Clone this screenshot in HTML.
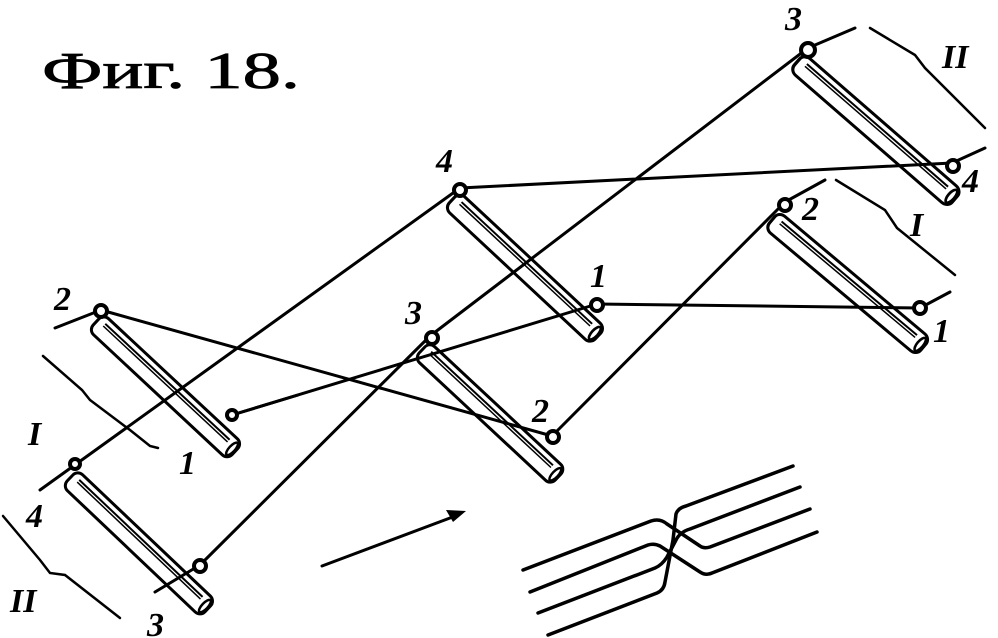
<!DOCTYPE html>
<html><head><meta charset="utf-8"><style>
html,body{margin:0;padding:0;background:#fff;}
svg{display:block}
.n{font-family:"Liberation Serif",serif;font-style:italic;font-weight:bold;font-size:34px;fill:#000}
</style></head><body>
<svg width="998" height="638" viewBox="0 0 998 638" xmlns="http://www.w3.org/2000/svg">
<defs>
<g id="bar">
  <rect x="0" y="-11" width="190" height="22" rx="7" fill="#fff" stroke="#000" stroke-width="3"/>
  <line x1="8" y1="-5" x2="178" y2="-5" stroke="#000" stroke-width="2"/>
  <line x1="8" y1="-2" x2="178" y2="-2" stroke="#000" stroke-width="1.5"/>
  <ellipse cx="186" cy="0" rx="3" ry="8" fill="#fff" stroke="#000" stroke-width="2.5"/>
</g>
</defs>
<text x="42" y="88" font-family="Liberation Serif, 'DejaVu Serif', serif" font-size="52" stroke="#000" stroke-width="0.8" textLength="258" lengthAdjust="spacingAndGlyphs">Фиг. 18.</text>

<g stroke="#000" stroke-width="2.5" fill="none" stroke-linecap="round">
  <polyline points="870,28 915,55 925,68 985,128"/>
  <polyline points="836,180 885,210 897,228 955,275"/>
  <polyline points="43,356 82,390 90,400 130,430 150,446 158,448"/>
  <polyline points="3,516 40,560 50,573 65,575 120,618"/>
</g>

<use href="#bar" transform="translate(96,322) rotate(43)"/>
<use href="#bar" transform="translate(70,478) rotate(43.5)"/>
<use href="#bar" transform="translate(422,350) rotate(43) scale(0.98,1)"/>
<use href="#bar" transform="translate(452,200) rotate(43) scale(1.05,1)"/>
<use href="#bar" transform="translate(772,220) rotate(40) scale(1.04,1)"/>
<use href="#bar" transform="translate(797,62) rotate(41) scale(1.1,1)"/>

<g stroke="#000" stroke-width="3" fill="none" stroke-linecap="round">
  <line x1="40" y1="490" x2="460" y2="188"/>
  <line x1="460" y1="188" x2="952" y2="163"/>
  <line x1="808" y1="48" x2="430" y2="336"/>
  <line x1="430" y1="336" x2="200" y2="565"/>
  <line x1="155" y1="592" x2="200" y2="565"/>
  <line x1="101" y1="310" x2="552" y2="436"/>
  <line x1="552" y1="436" x2="785" y2="202"/>
  <line x1="232" y1="415" x2="597" y2="304"/>
  <line x1="597" y1="304" x2="920" y2="308"/>
  <line x1="55" y1="328" x2="101" y2="310"/>
  <line x1="808" y1="48" x2="855" y2="28"/>
  <line x1="952" y1="163" x2="985" y2="148"/>
  <line x1="920" y1="308" x2="950" y2="292"/>
  <line x1="785" y1="202" x2="825" y2="180"/>
  <line x1="232" y1="415" x2="298" y2="395"/>
</g>
<g fill="#fff" stroke="#000" stroke-width="4">
  <circle cx="101" cy="311" r="6"/>
  <circle cx="75" cy="464" r="5"/>
  <circle cx="200" cy="566" r="6"/>
  <circle cx="232" cy="415" r="5"/>
  <circle cx="432" cy="338" r="6"/>
  <circle cx="553" cy="437" r="6"/>
  <circle cx="460" cy="190" r="6"/>
  <circle cx="597" cy="305" r="6"/>
  <circle cx="808" cy="50" r="7"/>
  <circle cx="953" cy="166" r="6"/>
  <circle cx="785" cy="205" r="6"/>
  <circle cx="920" cy="308" r="6"/>
</g>

<text class="n" x="785" y="30">3</text>
<text class="n" x="942" y="68" font-size="38">II</text>
<text class="n" x="436" y="172">4</text>
<text class="n" x="962" y="192" font-size="30">4</text>
<text class="n" x="802" y="220">2</text>
<text class="n" x="910" y="236" font-size="38">I</text>
<text class="n" x="590" y="287" font-size="30">1</text>
<text class="n" x="933" y="342" font-size="30">1</text>
<text class="n" x="54" y="310">2</text>
<text class="n" x="405" y="324">3</text>
<text class="n" x="532" y="422">2</text>
<text class="n" x="28" y="445" font-size="38">I</text>
<text class="n" x="179" y="474" font-size="30">1</text>
<text class="n" x="26" y="527">4</text>
<text class="n" x="10" y="612" font-size="38">II</text>
<text class="n" x="147" y="636">3</text>

<line x1="322" y1="566" x2="458" y2="515" stroke="#000" stroke-width="3" stroke-linecap="round"/>
<polygon points="446,510 466,511 453,522" fill="#000"/>

<g stroke="#000" stroke-width="3.5" fill="none" stroke-linecap="round" stroke-linejoin="round">
  <path d="M523,570 L651,521 Q660,518 667,524 L700,546 Q704,549 710,547 L810,509"/>
  <path d="M530,592 L648,545 Q654,543 660,546 L700,572 Q706,576 712,573 L817,532"/>
  <path d="M538,613 L655,568 Q662,565 667,557 L676,540 Q680,532 690,529 L800,487"/>
  <path d="M548,635 L657,593 Q664,590 665,582 L673,540 L676,514 Q678,508 686,506 L793,466"/>
</g>
</svg>
</body></html>
